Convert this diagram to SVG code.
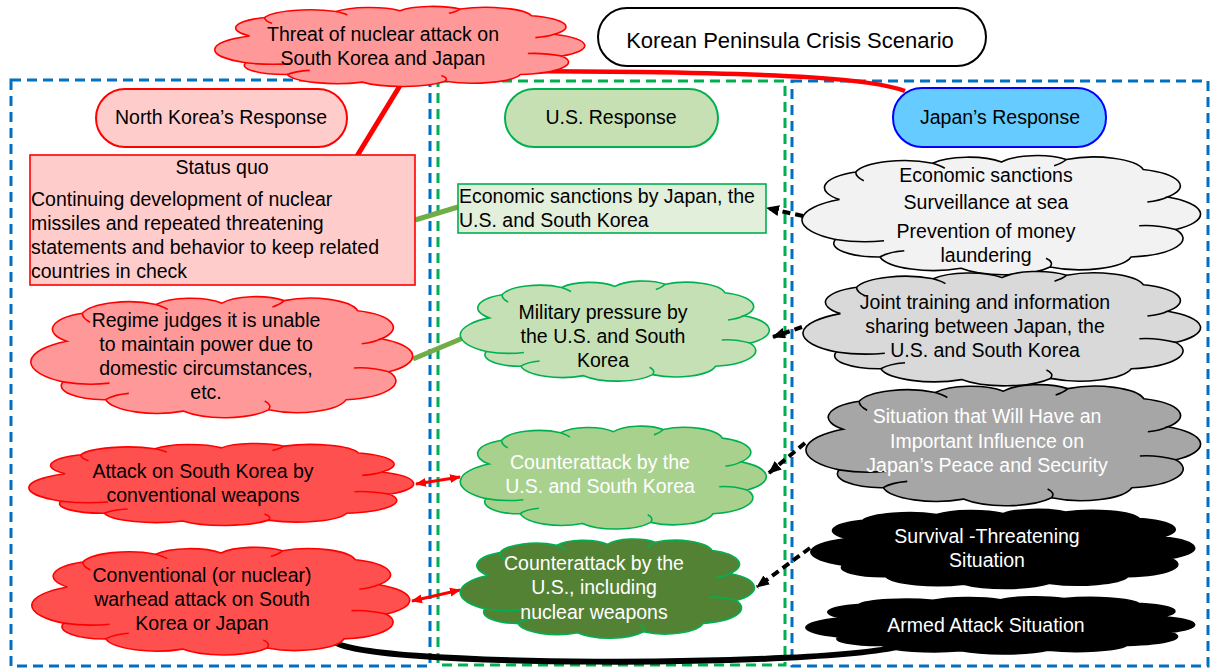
<svg xmlns="http://www.w3.org/2000/svg" xmlns:xlink="http://www.w3.org/1999/xlink" width="1213" height="668" viewBox="0 0 1213 668">
<style>
.t{font-family:"Liberation Sans",Arial,sans-serif;font-size:19.5px;fill:#000}
.c{text-anchor:middle}
.w{fill:#fff}
.frame{fill:none;stroke-width:3;stroke-dasharray:10 6}
.pill{stroke-width:2}
.cl{stroke-width:1.6}
.dash{fill:none;stroke:#000;stroke-width:4;stroke-dasharray:8 5}
.red2{fill:none;stroke:#FF0000;stroke-width:3}
.grn{fill:none;stroke:#70AD47;stroke-width:5}
</style>
<defs>
<g id="cloud">
<path vector-effect="non-scaling-stroke" d="M10 38 A14 14 0 0 1 14 16 A12.5 12.5 0 0 1 33 9 A10.5 10.5 0 0 1 50 8 A10 10 0 0 1 66 6 A12.5 12.5 0 0 1 85 14 A14 14 0 0 1 91 36 A15.5 15.5 0 0 1 93 62 A15 15 0 0 1 82 84 A13 13 0 0 1 62 92 A13.5 13.5 0 0 1 40 93 A13.5 13.5 0 0 1 20 84 A11 11 0 0 1 9 70 A19 19 0 0 1 10 38 Z"/>
<path vector-effect="non-scaling-stroke" fill="none" d="M9 70 Q15 73 21 71 M20 84 Q22 80 26 79 M62 92 Q63 88 61 85 M93 62 Q88 58 84 59 M91 36 Q89 39 86 40 M14 16 Q14 20 16 23 M33 9 Q35 11 36 13 M66 6 Q65 9 63 11"/>
</g>
<marker id="ah" markerUnits="userSpaceOnUse" markerWidth="13" markerHeight="11" refX="12" refY="5.5" orient="auto" viewBox="0 0 13 11"><path d="M0,0 L13,5.5 L0,11 z" fill="#000"/></marker>
<marker id="rh" markerUnits="userSpaceOnUse" markerWidth="11" markerHeight="9" refX="10" refY="4.5" orient="auto-start-reverse" viewBox="0 0 11 9"><path d="M0,0 L11,4.5 L0,9 z" fill="#FF0000"/></marker>
</defs>

<g id="frames">
<rect class="frame" x="11" y="80" width="419" height="586" stroke="#0070C0"/>
<rect class="frame" x="438" y="81" width="347" height="584" stroke="#00B050" stroke-width="2.5" stroke-dasharray="8 5"/>
<rect class="frame" x="792" y="81" width="416" height="585" stroke="#0070C0"/>
</g>

<g id="connectors">
<path d="M401 84 L357 156" fill="none" stroke="#FF0000" stroke-width="5"/>
<path d="M517 71 L640 72 C780 74 870 78 905 91" fill="none" stroke="#FF0000" stroke-width="4.5"/>
<path class="grn" d="M415 220 L458 207"/>
<path class="grn" d="M413 359 L463 338"/>
<path class="red2" d="M416 484 L460 477" marker-start="url(#rh)" marker-end="url(#rh)"/>
<path class="red2" d="M412 601 L460 590" marker-start="url(#rh)" marker-end="url(#rh)"/>
<path class="dash" d="M803 216 L767 208" marker-end="url(#ah)"/>
<path class="dash" d="M802 327 L773 337" marker-end="url(#ah)"/>
<path class="dash" d="M805 443 L769 473" marker-end="url(#ah)"/>
<path class="dash" d="M810 548 L757 587" marker-end="url(#ah)"/>
<path d="M333 640 C345 668 830 668 905 645" fill="none" stroke="#000" stroke-width="6"/>
</g>

<g id="title">
<rect x="598" y="8" width="388" height="58" rx="29" fill="#fff" stroke="#000" class="pill"/>
<text class="t c" x="790" y="48" style="font-size:22px">Korean Peninsula Crisis Scenario</text>
</g>

<g id="threat">
<use xlink:href="#cloud" href="#cloud" transform="translate(212,4) scale(3.76,0.84)" fill="#FF9999" stroke="#FF0000" class="cl"/>
<text class="t c" x="383" y="41">Threat of nuclear attack on</text>
<text class="t c" x="383" y="65">South Korea and Japan</text>
</g>

<g id="nk-header">
<rect x="96" y="89" width="251" height="58" rx="29" fill="#FFCCCC" stroke="#FF0000" class="pill"/>
<text class="t c" x="221" y="124">North Korea’s Response</text>
</g>

<g id="us-header">
<rect x="505" y="89" width="213" height="58" rx="29" fill="#C6E0B4" stroke="#00B050" class="pill"/>
<text class="t c" x="611" y="124">U.S. Response</text>
</g>

<g id="jp-header">
<rect x="893" y="88" width="213" height="59" rx="29" fill="#66CCFF" stroke="#0000FF" class="pill"/>
<text class="t c" x="1000" y="124">Japan’s Response</text>
</g>

<g id="status-quo">
<rect x="30" y="155" width="385" height="130" fill="#FFCCCC" stroke="#FF0000" stroke-width="1.6"/>
<text class="t c" x="222" y="174">Status quo</text>
<text class="t" x="31" y="206">Continuing development of nuclear</text>
<text class="t" x="31" y="230">missiles and repeated threatening</text>
<text class="t" x="31" y="254">statements and behavior to keep related</text>
<text class="t" x="31" y="278">countries in check</text>
</g>

<g id="regime">
<use xlink:href="#cloud" href="#cloud" transform="translate(28,293) scale(3.88,1.27)" fill="#FF9999" stroke="#FF0000" class="cl"/>
<text class="t c" x="206" y="327">Regime judges it is unable</text>
<text class="t c" x="206" y="351">to maintain power due to</text>
<text class="t c" x="206" y="375">domestic circumstances,</text>
<text class="t c" x="206" y="399">etc.</text>
</g>

<g id="attack-sk">
<use xlink:href="#cloud" href="#cloud" transform="translate(26,441) scale(3.91,0.86)" fill="#FF5050" stroke="#FF0000" class="cl"/>
<text class="t c" x="203" y="478">Attack on South Korea by</text>
<text class="t c" x="203" y="502">conventional weapons</text>
</g>

<g id="conventional">
<use xlink:href="#cloud" href="#cloud" transform="translate(29,544) scale(3.84,1.13)" fill="#FF5050" stroke="#FF0000" class="cl"/>
<text class="t c" x="202" y="582">Conventional (or nuclear)</text>
<text class="t c" x="202" y="606">warhead attack on South</text>
<text class="t c" x="202" y="630">Korea or Japan</text>
</g>

<g id="us-sanctions">
<rect x="458" y="184" width="308" height="49" fill="#E2EFDA" stroke="#00B050" stroke-width="1.6"/>
<text class="t" x="459" y="203">Economic sanctions by Japan, the</text>
<text class="t" x="459" y="227">U.S. and South Korea</text>
</g>

<g id="military">
<use xlink:href="#cloud" href="#cloud" transform="translate(458,278) scale(3.14,1.05)" fill="#C5E0B4" stroke="#00B050" class="cl"/>
<text class="t c" x="603" y="319">Military pressure by</text>
<text class="t c" x="603" y="343">the U.S. and South</text>
<text class="t c" x="603" y="367">Korea</text>
</g>

<g id="counter1">
<use xlink:href="#cloud" href="#cloud" transform="translate(458,423) scale(3.11,1.08)" fill="#A9D18E" stroke="#00B050" class="cl"/>
<text class="t c w" x="600" y="469">Counterattack by the</text>
<text class="t c w" x="600" y="493">U.S. and South Korea</text>
</g>

<g id="counter2">
<use xlink:href="#cloud" href="#cloud" transform="translate(458,536) scale(2.99,1.04)" fill="#548235" stroke="#00B050" class="cl"/>
<text class="t c w" x="594" y="570">Counterattack by the</text>
<text class="t c w" x="594" y="594">U.S., including</text>
<text class="t c w" x="594" y="619">nuclear weapons</text>
</g>

<g id="jp-sanctions">
<use xlink:href="#cloud" href="#cloud" transform="translate(799,152) scale(4.05,1.25)" fill="#F2F2F2" stroke="#000" class="cl"/>
<text class="t c" x="986" y="182">Economic sanctions</text>
<text class="t c" x="986" y="209">Surveillance at sea</text>
<text class="t c" x="986" y="238">Prevention of money</text>
<text class="t c" x="986" y="262">laundering</text>
</g>

<g id="jp-joint">
<use xlink:href="#cloud" href="#cloud" transform="translate(800,268) scale(4.04,1.2)" fill="#D9D9D9" stroke="#000" class="cl"/>
<text class="t c" x="985" y="309">Joint training and information</text>
<text class="t c" x="985" y="333">sharing between Japan, the</text>
<text class="t c" x="985" y="357">U.S. and South Korea</text>
</g>

<g id="jp-situation">
<use xlink:href="#cloud" href="#cloud" transform="translate(803,381) scale(4.01,1.27)" fill="#A6A6A6" stroke="#000" class="cl"/>
<text class="t c w" x="987" y="423">Situation that Will Have an</text>
<text class="t c w" x="987" y="448">Important Influence on</text>
<text class="t c w" x="987" y="472">Japan’s Peace and Security</text>
</g>

<g id="jp-survival">
<use xlink:href="#cloud" href="#cloud" transform="translate(808,507) scale(3.9,0.83)" fill="#000" stroke="#000" class="cl"/>
<text class="t c w" x="987" y="543">Survival -Threatening</text>
<text class="t c w" x="987" y="567">Situation</text>
</g>

<g id="jp-armed">
<use xlink:href="#cloud" href="#cloud" transform="translate(803,595) scale(3.95,0.6)" fill="#000" stroke="#000" class="cl"/>
<text class="t c w" x="986" y="632">Armed Attack Situation</text>
</g>
</svg>
